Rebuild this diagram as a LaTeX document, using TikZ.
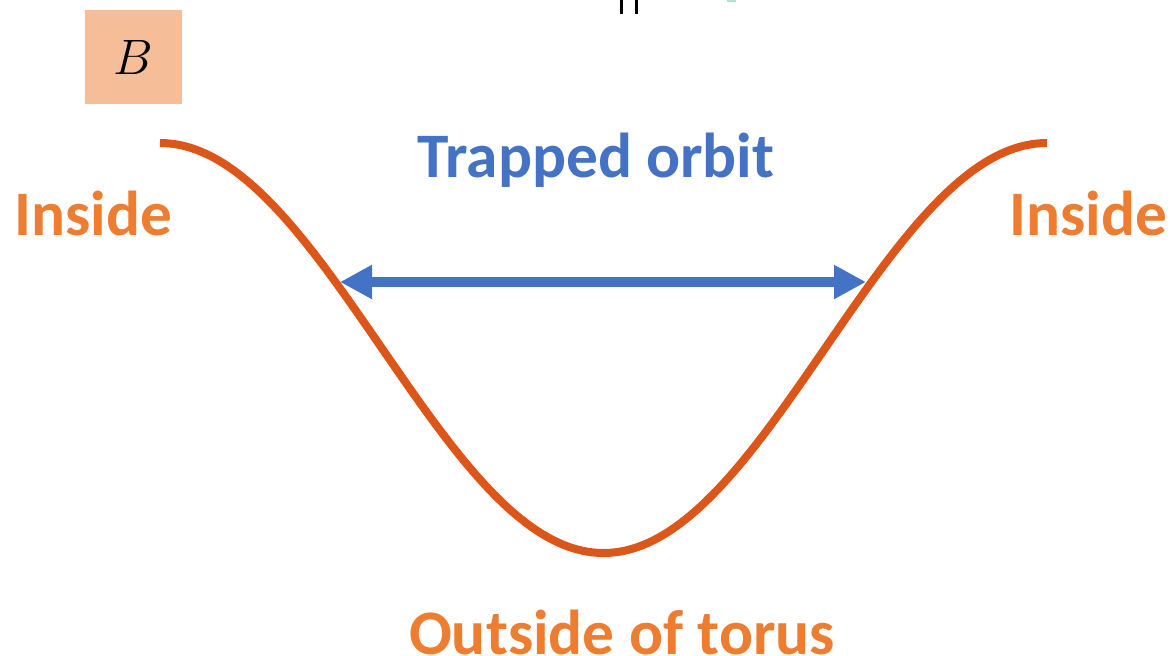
\documentclass[tikz,border=0pt]{standalone}
\usepackage{fontspec}
\setsansfont{Carlito}
\usetikzlibrary{arrows.meta,positioning}
\definecolor{curve}{HTML}{DC5519}
\definecolor{label}{HTML}{ED7D31}
\definecolor{orbit}{HTML}{4472C4}
\definecolor{boxfill}{HTML}{F5BD98}
\definecolor{tealbit}{HTML}{A8E6D6}
\tikzset{
  big/.style={font=\sffamily\bfseries\fontsize{31.7}{38}\selectfont,inner sep=0pt},
  lbl/.style={big,text=label},
  tag/.style={fill=boxfill,minimum width=48.5pt,minimum height=47pt,inner sep=0pt,font=\fontsize{35}{40}\selectfont},
  wave/.style={draw=curve,line width=4pt},
  ar/.style={{Triangle[length=16pt,width=16pt]}-{Triangle[length=16pt,width=16pt]},draw=orbit,fill=orbit,line width=5pt},
  bar/.style={draw=black,line width=1.5pt},
}
\begin{document}
\begin{tikzpicture}[x=0.5pt,y=-0.5pt]
  \useasboundingbox (0,0) rectangle (1173,655);
  % fragments at the top edge
  \draw[bar] (621.5,0) -- (621.5,14);
  \draw[bar] (636.5,0) -- (636.5,14);
  \fill[tealbit] (727,0) rectangle (736,2);
  % field strength along the line
  \node[tag] (b) at (133.5,57) {$B$};
  \draw[wave] plot[domain=160:1047,samples=120,smooth] (\x,{348-205*cos(0.405862*(\x-160))});
  \coordinate (ml) at (340,282);
  \coordinate (mr) at (866,282);
  \draw[ar] (ml) -- (mr);
  \node[big,text=orbit] (trap) at (596,160) {Trapped orbit};
  \node[lbl] (inl) at (93,213) {Inside};
  \node[lbl] (inr) at (1088,213) {Inside};
  \node[lbl] (out) at (622,632) {Outside of torus};
\end{tikzpicture}
\end{document}
